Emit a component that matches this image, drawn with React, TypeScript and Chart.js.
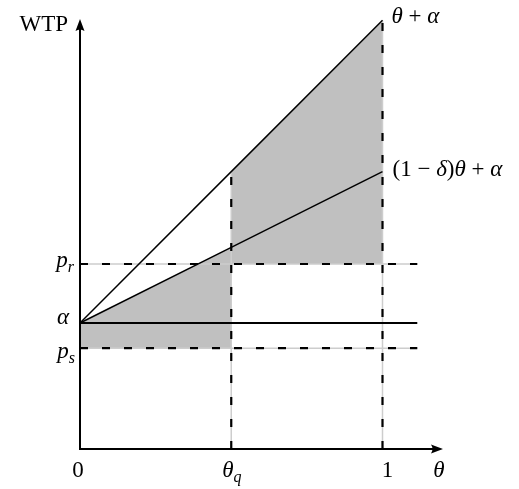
import React, { useEffect, useRef } from "react";
import { Chart, registerables } from "chart.js";

Chart.register(...registerables);

// ---- data ----
const thetaPoints = [0, 0.5, 1]; // 0, θq, 1
const thetaTickLabels = ["0", "θq", "1"];
const upperWTP = [0.416, 0.916, 1.416]; // θ + α
const lowerWTP = [0.416, 0.666, 0.916]; // (1 − δ)θ + α
const priceNames = ["pr", "α", "ps"];
const priceValues = [0.611, 0.416, 0.333]; // p_r, α, p_s
const lineEnd = 1.115;
const xMax = 1.2;
const yMax = 1.42;

const FONT = '"Liberation Serif", "DejaVu Serif", serif';

type Run = { t: string; it?: boolean; sub?: boolean };

function drawMath(ctx: CanvasRenderingContext2D, runs: Run[], x: number, y: number, align: "left" | "right" | "center") {
  const fontFor = (r: Run) => `${r.it ? "italic " : ""}${r.sub ? 16 : 23}px ${FONT}`;
  let w = 0;
  for (const r of runs) {
    ctx.font = fontFor(r);
    w += ctx.measureText(r.t).width;
  }
  let cx = align === "right" ? x - w : align === "center" ? x - w / 2 : x;
  ctx.textAlign = "left";
  ctx.textBaseline = "alphabetic";
  ctx.fillStyle = "#000";
  for (const r of runs) {
    ctx.font = fontFor(r);
    ctx.fillText(r.t, cx, y + (r.sub ? 5 : 0));
    cx += ctx.measureText(r.t).width;
  }
}

const overlayPlugin = {
  id: "overlay",
  afterDraw(chart: any) {
    const ctx: CanvasRenderingContext2D = chart.ctx;
    const xs = chart.scales.x;
    const ys = chart.scales.y;
    const X = (v: number) => xs.getPixelForValue(v);
    const Y = (v: number) => ys.getPixelForValue(v);
    const x0 = X(0);
    const y0 = Y(0);
    const top = Y(yMax);
    const right = X(xMax);
    ctx.save();
    ctx.strokeStyle = "#000";
    ctx.fillStyle = "#000";
    ctx.lineWidth = 2;
    ctx.lineCap = "butt";
    // y axis
    ctx.beginPath();
    ctx.moveTo(x0, y0 + 1);
    ctx.lineTo(x0, top + 8);
    ctx.stroke();
    ctx.beginPath();
    ctx.moveTo(x0, top);
    ctx.lineTo(x0 + 4.5, top + 12);
    ctx.quadraticCurveTo(x0, top + 9, x0 - 4.5, top + 12);
    ctx.closePath();
    ctx.fill();
    // x axis
    ctx.beginPath();
    ctx.moveTo(x0 - 1, y0);
    ctx.lineTo(right - 8, y0);
    ctx.stroke();
    ctx.beginPath();
    ctx.moveTo(right, y0);
    ctx.lineTo(right - 12, y0 - 4.5);
    ctx.quadraticCurveTo(right - 9, y0, right - 12, y0 + 4.5);
    ctx.closePath();
    ctx.fill();

    // labels
    drawMath(ctx, [{ t: "WTP" }], x0 - 12, top + 12, "right");
    drawMath(ctx, [{ t: "θ", it: true }, { t: " + " }, { t: "α", it: true }], X(1) + 9, Y(upperWTP[2]) + 3, "left");
    drawMath(
      ctx,
      [{ t: "(1 − " }, { t: "δ", it: true }, { t: ")" }, { t: "θ", it: true }, { t: " + " }, { t: "α", it: true }],
      X(1) + 10,
      Y(lowerWTP[2]) + 4,
      "left"
    );
    // price labels
    drawMath(ctx, [{ t: priceNames[0][0], it: true }, { t: priceNames[0][1], it: true, sub: true }], x0 - 6, Y(priceValues[0]) + 3, "right");
    drawMath(ctx, [{ t: priceNames[1], it: true }], x0 - 11, Y(priceValues[1]) + 1, "right");
    drawMath(ctx, [{ t: priceNames[2][0], it: true }, { t: priceNames[2][1], it: true, sub: true }], x0 - 5, Y(priceValues[2]) + 10, "right");
    // x tick labels
    const base = y0 + 28;
    drawMath(ctx, [{ t: thetaTickLabels[0] }], X(thetaPoints[0]) - 2, base, "center");
    drawMath(ctx, [{ t: thetaTickLabels[1][0], it: true }, { t: thetaTickLabels[1][1], it: true, sub: true }], X(thetaPoints[1]) - 9, base, "left");
    drawMath(ctx, [{ t: thetaTickLabels[2] }], X(thetaPoints[2]) + 5, base, "center");
    drawMath(ctx, [{ t: "θ", it: true }], right - 4, base, "center");
    ctx.restore();
  },
};

export default function App() {
  const ref = useRef<HTMLCanvasElement | null>(null);
  useEffect(() => {
    if (!ref.current) return;
    const GRAY_FILL = "#c0c0c0";
    const UNDER = "#cdcdcd";
    const pt = (x: number, y: number) => ({ x, y });
    const base = { pointRadius: 0, borderWidth: 0, tension: 0, clip: false as any, fill: false as any };
    const datasets: any[] = [
      // shaded regions
      {
        ...base,
        data: [pt(thetaPoints[0], lowerWTP[0]), pt(thetaPoints[1], lowerWTP[1])],
        fill: { value: priceValues[2] },
        backgroundColor: GRAY_FILL,
        borderColor: "rgba(0,0,0,0)",
        order: 30,
      },
      {
        ...base,
        data: [pt(thetaPoints[1], upperWTP[1]), pt(thetaPoints[2], upperWTP[2])],
        fill: { value: priceValues[0] },
        backgroundColor: GRAY_FILL,
        borderColor: "rgba(0,0,0,0)",
        order: 30,
      },
    ];
    const dashedLines = [
      [pt(0, priceValues[0]), pt(lineEnd, priceValues[0])],
      [pt(0, priceValues[2]), pt(lineEnd, priceValues[2])],
      [pt(thetaPoints[1], 0), pt(thetaPoints[1], upperWTP[1])],
      [pt(thetaPoints[2], 0), pt(thetaPoints[2], upperWTP[2])],
    ];
    for (const d of dashedLines) {
      datasets.push({ ...base, data: d, borderColor: UNDER, borderWidth: 1.5, order: 20 });
      datasets.push({ ...base, data: d, borderColor: "#000", borderWidth: 2.2, borderDash: [8, 14], borderCapStyle: "butt", order: 19 });
    }
    datasets.push({ ...base, data: [pt(0, priceValues[1]), pt(lineEnd, priceValues[1])], borderColor: "#000", borderWidth: 2, order: 3 });
    datasets.push({ ...base, data: thetaPoints.map((t, i) => pt(t, upperWTP[i])), borderColor: "#000", borderWidth: 1.5, order: 2 });
    datasets.push({ ...base, data: thetaPoints.map((t, i) => pt(t, lowerWTP[i])), borderColor: "#000", borderWidth: 1.5, order: 2 });

    const chart = new Chart(ref.current, {
      type: "line",
      data: { datasets },
      options: {
        responsive: false,
        animation: false,
        layout: { padding: { left: 80, right: 76, top: 19, bottom: 40 } },
        scales: {
          x: { type: "linear", min: 0, max: xMax, display: false },
          y: { type: "linear", min: 0, max: yMax, display: false },
        },
        plugins: {
          legend: { display: false },
          tooltip: { enabled: false },
          filler: { propagate: false, drawTime: "beforeDatasetsDraw" } as any,
        },
        elements: { point: { radius: 0 }, line: { tension: 0 } },
      } as any,
      plugins: [overlayPlugin],
    });
    return () => chart.destroy();
  }, []);
  return (
    <div style={{ position: "absolute", left: 0, top: 0, width: 519, height: 489, background: "#fff" }}>
      <canvas ref={ref} width={519} height={489} style={{ width: 519, height: 489, display: "block" }} />
    </div>
  );
}
